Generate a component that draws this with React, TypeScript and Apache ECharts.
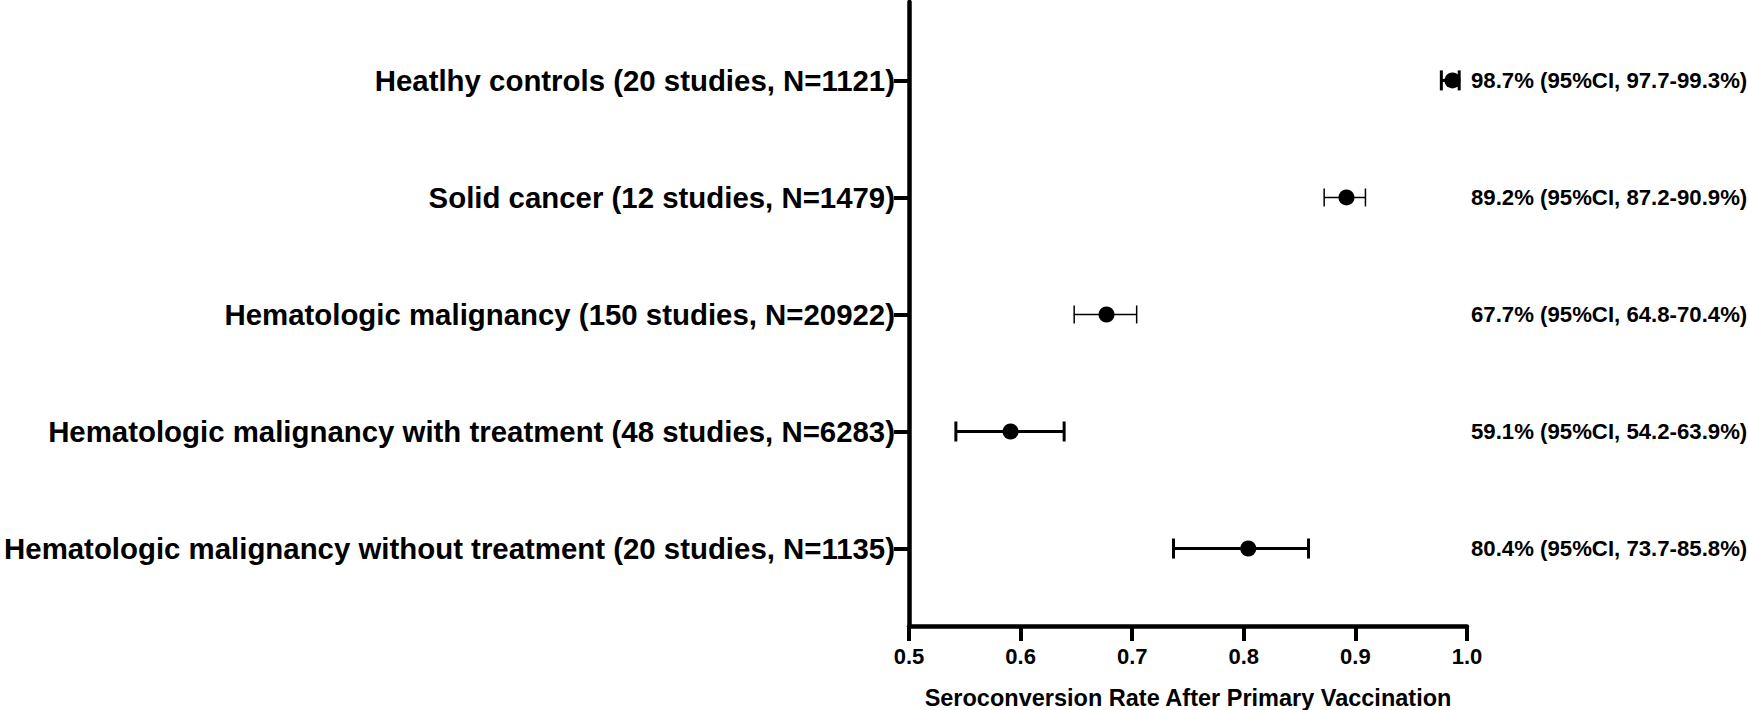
import React, { useEffect, useRef } from "react";
import * as echarts from "echarts";

const categories = [
  "Heatlhy controls (20 studies, N=1121)",
  "Solid cancer (12 studies, N=1479)",
  "Hematologic malignancy (150 studies, N=20922)",
  "Hematologic malignancy with treatment (48 studies, N=6283)",
  "Hematologic malignancy without treatment (20 studies, N=1135)",
];
const rowPositions = [5, 4, 3, 2, 1];
const rates = [0.987, 0.892, 0.677, 0.591, 0.804];
const lowerCI = [0.977, 0.872, 0.648, 0.542, 0.737];
const upperCI = [0.993, 0.909, 0.704, 0.639, 0.858];
const barWidths = [3, 1.5, 1.5, 3, 3];
const xTicks = [0.5, 0.6, 0.7, 0.8, 0.9, 1.0];
const xTitle = "Seroconversion Rate After Primary Vaccination";

const FONT = "Liberation Sans, Arial, Helvetica, sans-serif";

const pct = (v: number) => (v * 100).toFixed(1);
const summaries = rates.map(
  (r, i) => `${pct(r)}% (95%CI, ${pct(lowerCI[i])}-${pct(upperCI[i])}%)`
);

export default function App() {
  const ref = useRef<HTMLDivElement>(null);
  useEffect(() => {
    if (!ref.current) return;
    const chart = echarts.init(ref.current, null, { renderer: "svg" });
    const yMin = 0.338;
    const yMax = 5.67;
    const labelFor = (v: number) => {
      const i = rowPositions.indexOf(Math.round(v));
      return i >= 0 ? categories[i] : "";
    };
    const summaryFor = (v: number) => {
      const i = rowPositions.indexOf(Math.round(v));
      return i >= 0 ? summaries[i] : "";
    };
    chart.setOption({
      animation: false,
      backgroundColor: "#ffffff",
      grid: {
        left: 909,
        right: 281,
        top: 2,
        bottom: 84,
        containLabel: false,
        outerBoundsMode: "none",
      },
      xAxis: {
        type: "value",
        min: 0.5,
        max: 1.0,
        interval: 0.1,
        name: xTitle,
        nameLocation: "middle",
        nameGap: 60,
        nameTextStyle: { fontFamily: FONT, fontWeight: "bold", fontSize: 23.5, color: "#000" },
        axisLine: { show: true, onZero: false, lineStyle: { color: "#000", width: 4.5 } },
        axisTick: { show: true, length: 15, lineStyle: { color: "#000", width: 4 } },
        axisLabel: {
          margin: 19,
          fontFamily: FONT,
          fontWeight: "bold",
          fontSize: 22,
          color: "#000",
          formatter: (v: number) => (xTicks.some((t) => Math.abs(t - v) < 1e-6) ? v.toFixed(1) : ""),
        },
        splitLine: { show: false },
      },
      yAxis: [
        {
          type: "value",
          min: yMin,
          max: yMax,
          axisLine: { show: true, onZero: false, lineStyle: { color: "#000", width: 4.5 } },
          axisTick: { show: true, customValues: rowPositions, length: 15, lineStyle: { color: "#000", width: 4 } },
          axisLabel: {
            customValues: rowPositions,
            margin: 14,
            fontFamily: FONT,
            fontWeight: "bold",
            fontSize: 29.4,
            color: "#000",
            formatter: (v: number) => labelFor(v),
          },
          splitLine: { show: false },
        },
        {
          type: "value",
          min: yMin,
          max: yMax,
          position: "right",
          axisLine: { show: false },
          axisTick: { show: false },
          axisLabel: {
            customValues: rowPositions,
            margin: 4,
            align: "left",
            fontFamily: FONT,
            fontWeight: "bold",
            fontSize: 22.2,
            color: "#000",
            formatter: (v: number) => summaryFor(v),
          },
          splitLine: { show: false },
        },
      ],
      series: [
        {
          type: "custom",
          yAxisIndex: 0,
          data: rates.map((_, i) => [lowerCI[i], upperCI[i], rowPositions[i], barWidths[i]]),
          renderItem: (params: any, api: any) => {
            const lo = api.coord([api.value(0), api.value(2)]);
            const hi = api.coord([api.value(1), api.value(2)]);
            const w = api.value(3);
            const capH = w > 2 ? 10 : 9;
            const style = { stroke: "#000", lineWidth: w };
            return {
              type: "group",
              children: [
                { type: "line", shape: { x1: lo[0], y1: lo[1], x2: hi[0], y2: hi[1] }, style },
                { type: "line", shape: { x1: lo[0], y1: lo[1] - capH, x2: lo[0], y2: lo[1] + capH }, style },
                { type: "line", shape: { x1: hi[0], y1: hi[1] - capH, x2: hi[0], y2: hi[1] + capH }, style },
              ],
            };
          },
          z: 2,
        },
        {
          type: "scatter",
          yAxisIndex: 0,
          symbol: "circle",
          symbolSize: 16,
          itemStyle: { color: "#000", opacity: 1 },
          data: rates.map((r, i) => [r, rowPositions[i]]),
          z: 3,
        },
      ],
    });
    return () => chart.dispose();
  }, []);
  return (
    <div
      ref={ref}
      style={{ position: "fixed", left: 0, top: 0, width: 1748, height: 710, background: "#fff" }}
    />
  );
}
